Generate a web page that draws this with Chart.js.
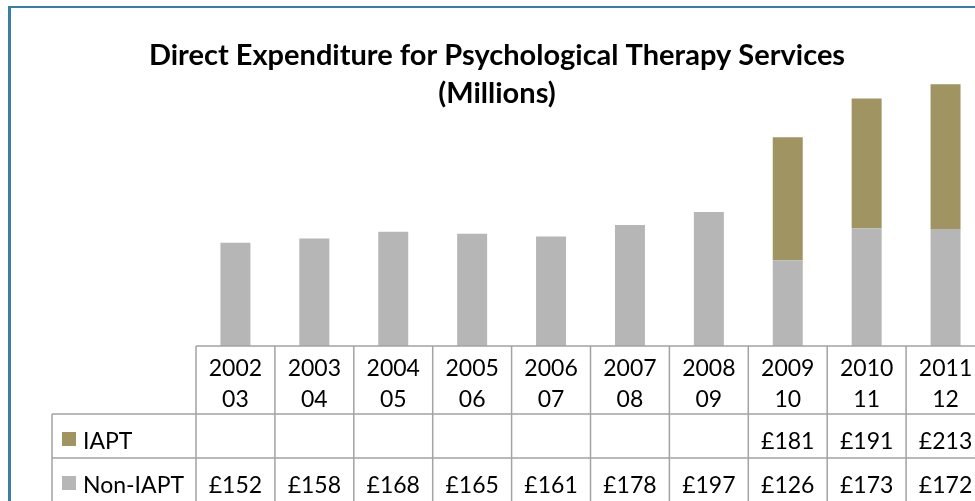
<!DOCTYPE html>
<html>
<head>
<meta charset="utf-8">
<script src="https://cdn.jsdelivr.net/npm/chart.js@4"></script>
<style>
  html, body { margin: 0; padding: 0; background: #fff; overflow: hidden; }
  #wrap { position: absolute; left: 8px; top: 6px; border-left: 3px solid #3c7da3; border-top: 2px solid #3c7da3; }
  canvas { display: block; }
</style>
</head>
<body>
<div id="wrap"><canvas id="chartGasto" width="1000" height="530"></canvas></div>
<script>
// Datos del gráfico
const titulo = ["Direct Expenditure for Psychological Therapy Services", "(Millions)"];
const anios = [["2002", "03"], ["2003", "04"], ["2004", "05"], ["2005", "06"], ["2006", "07"],
  ["2007", "08"], ["2008", "09"], ["2009", "10"], ["2010", "11"], ["2011", "12"]];
const iapt = [null, null, null, null, null, null, null, 181, 191, 213];
const noIapt = [152, 158, 168, 165, 161, 178, 197, 126, 173, 172];

const colorIapt = "#a09462";
const colorNoIapt = "#b6b6b6";
const fuente = "Lato, 'Open Sans', sans-serif";

// Dibuja el título y la tabla de datos debajo de las barras (estilo Excel)
const tablaDatos = {
  id: "tablaDatos",
  afterDraw(chart) {
    const ctx = chart.ctx;
    const area = chart.chartArea;
    const x = chart.scales.x;
    const n = anios.length;
    const ancho = (area.right - area.left) / n;

    ctx.save();
    // titulo
    ctx.fillStyle = "#000";
    ctx.textAlign = "center";
    ctx.textBaseline = "alphabetic";
    ctx.font = "bold 29px " + fuente;
    const cx = 486;
    ctx.fillText(titulo[0], cx, 57);
    ctx.fillText(titulo[1], cx, 95);

    const top = area.bottom;
    const hCab = 68, hFila = 44;
    const izqLeyenda = 41;
    const filas = [
      { label: "IAPT", color: colorIapt, data: iapt },
      { label: "Non-IAPT", color: colorNoIapt, data: noIapt }
    ];
    const fondo = top + hCab + hFila * filas.length;

    // lineas
    ctx.strokeStyle = "#a3a3a3";
    ctx.lineWidth = 1.5;
    ctx.beginPath();
    ctx.moveTo(area.left, top);
    ctx.lineTo(area.right, top);
    for (let r = 0; r <= filas.length; r++) {
      const y = top + hCab + hFila * r;
      ctx.moveTo(izqLeyenda, y);
      ctx.lineTo(area.right, y);
    }
    for (let i = 0; i <= n; i++) {
      const xx = area.left + ancho * i;
      ctx.moveTo(xx, top);
      ctx.lineTo(xx, fondo);
    }
    ctx.moveTo(izqLeyenda, top + hCab);
    ctx.lineTo(izqLeyenda, fondo);
    ctx.stroke();

    // cabecera de años
    ctx.fillStyle = "#000";
    ctx.font = "23px " + fuente;
    ctx.textAlign = "center";
    anios.forEach((a, i) => {
      const px = x.getPixelForValue(i);
      ctx.fillText(a[0], px, top + 30);
      ctx.fillText(a[1], px, top + 61);
    });

    // filas de valores y leyenda
    filas.forEach((f, r) => {
      const yBase = top + hCab + hFila * r + 35;
      ctx.fillStyle = f.color;
      ctx.fillRect(51, yBase - 17, 14, 14);
      ctx.fillStyle = "#000";
      ctx.textAlign = "left";
      ctx.fillText(f.label, 72, yBase);
      ctx.textAlign = "center";
      f.data.forEach((v, i) => {
        if (v !== null) ctx.fillText("£" + v, x.getPixelForValue(i), yBase);
      });
    });
    ctx.restore();
  }
};

function grafico_gasto() {
  const canvas = document.getElementById("chartGasto");
  new Chart(canvas, {
    type: "bar",
    data: {
      labels: anios.map(a => a.join(" ")),
      datasets: [
        { label: "Non-IAPT", data: noIapt, backgroundColor: colorNoIapt, categoryPercentage: 1, barPercentage: 0.38 },
        { label: "IAPT", data: iapt, backgroundColor: colorIapt, categoryPercentage: 1, barPercentage: 0.38 }
      ]
    },
    options: {
      responsive: false,
      animation: false,
      layout: { padding: { left: 185, right: 26, top: 32, bottom: 192 } },
      plugins: { legend: { display: false }, tooltip: { enabled: false }, title: { display: false } },
      scales: {
        x: { stacked: true, display: false },
        y: { stacked: true, display: false, min: 0, max: 450 }
      }
    },
    plugins: [tablaDatos]
  });
}

grafico_gasto();
</script>
</body>
</html>
